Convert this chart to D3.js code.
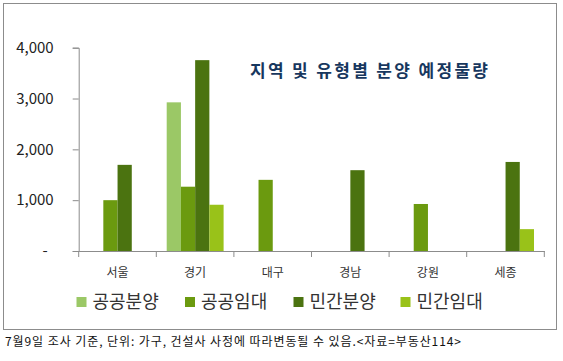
<!DOCTYPE html>
<html>
<head>
<meta charset="utf-8">
<script src="https://cdn.jsdelivr.net/npm/d3@7"></script>
<style>
  body { margin: 0; background: #fff; }
  text { font-family: "Noto Sans CJK KR", "Noto Sans", sans-serif; }
</style>
</head>
<body>
<script>
// data
var regions = ["서울", "경기", "대구", "경남", "강원", "세종"];
var types = ["공공분양", "공공임대", "민간분양", "민간임대"];
var publicSale = [0, 2925, 0, 0, 0, 0];
var publicRent = [1000, 1265, 1400, 0, 925, 0];
var privateSale = [1695, 3755, 0, 1590, 0, 1752];
var privateRent = [0, 910, 0, 0, 0, 430];
var yTicks = [0, 1000, 2000, 3000, 4000];
var colors = ["#9bc866", "#6b9a0f", "#4b7310", "#99c219"];

var w = 563, h = 361;
var seriesValues = [publicSale, publicRent, privateSale, privateRent];

var svg = d3.select("body").append("svg")
  .attr("width", w)
  .attr("height", h);

// outer frame
svg.append("rect")
  .attr("x", 3.5).attr("y", 3.5)
  .attr("width", 553).attr("height", 326)
  .attr("fill", "none")
  .attr("stroke", "#8c8c8c")
  .attr("stroke-width", 1);

var x0 = d3.scaleBand().domain(regions).range([78.7, 544.3]).padding(0);
var x1 = d3.scaleBand().domain(types).range([10.4, 67.3]).padding(0);
var y = d3.scaleLinear().domain([0, 4000]).range([251, 47.7]);

// bars
var rows = [];
regions.forEach(function(r, i) {
  types.forEach(function(t, j) {
    if (seriesValues[j][i] > 0) rows.push({region: r, type: t, value: seriesValues[j][i], c: colors[j]});
  });
});

svg.selectAll(".bar")
  .data(rows)
  .enter().append("rect")
  .attr("class", "bar")
  .attr("x", function(d) { return x0(d.region) + x1(d.type); })
  .attr("width", x1.bandwidth())
  .attr("y", function(d) { return y(d.value); })
  .attr("height", function(d) { return y(0) - y(d.value); })
  .attr("fill", function(d) { return d.c; });

// y axis
var yAxis = d3.axisLeft(y)
  .tickValues(yTicks)
  .tickSizeOuter(0)
  .tickSize(6)
  .tickPadding(19)
  .tickFormat(function(d) { return d === 0 ? "-" : d3.format(",")(d); });

var gy = svg.append("g")
  .attr("transform", "translate(78.7,0)")
  .call(yAxis);
gy.select(".domain").attr("stroke", "#8c8c8c");
gy.selectAll(".tick line").attr("stroke", "#8c8c8c");
gy.selectAll(".tick text")
  .attr("font-size", "15px")
  .attr("fill", "#222")
  .attr("dx", function(d) { return d === 0 ? "-6" : "0"; });

// x axis
var xAxis = d3.axisBottom(x0).tickSize(0).tickPadding(17);
var gx = svg.append("g")
  .attr("transform", "translate(0,251)")
  .call(xAxis);
gx.select(".domain").attr("stroke", "#8c8c8c");
gx.selectAll(".tick text")
  .attr("font-size", "12px")
  .attr("fill", "#333");

// category separators
var seps = regions.map(function(r) { return x0(r); }).concat([x0.range()[1]]);
gx.selectAll(".sep")
  .data(seps)
  .enter().append("line")
  .attr("class", "sep")
  .attr("x1", function(d) { return d; })
  .attr("x2", function(d) { return d; })
  .attr("y1", 0).attr("y2", 6)
  .attr("stroke", "#8c8c8c");

// title
svg.append("text")
  .attr("x", 250)
  .attr("y", 77)
  .attr("font-size", "17px")
  .attr("font-weight", "bold")
  .attr("fill", "#17375e")
  .attr("textLength", 238)
  .text("지역 및 유형별 분양 예정물량");

// legend
var legendX = [76.5, 185, 293.5, 400.5];
var lg = svg.selectAll(".legend")
  .data(types)
  .enter().append("g")
  .attr("class", "legend")
  .attr("transform", function(d, i) { return "translate(" + legendX[i] + ",297)"; });

lg.append("rect")
  .attr("width", 10).attr("height", 10)
  .attr("fill", function(d, i) { return colors[i]; });

lg.append("text")
  .attr("x", 16)
  .attr("y", 11)
  .attr("font-size", "18px")
  .attr("fill", "#333")
  .text(function(d) { return d; });

// footnote
svg.append("text")
  .attr("x", 5)
  .attr("y", 346)
  .attr("font-size", "12px")
  .attr("fill", "#111")
  .attr("textLength", 456)
  .text("7월9일 조사 기준, 단위: 가구, 건설사 사정에 따라변동될 수 있음.<자료=부동산114>");
</script>
</body>
</html>
